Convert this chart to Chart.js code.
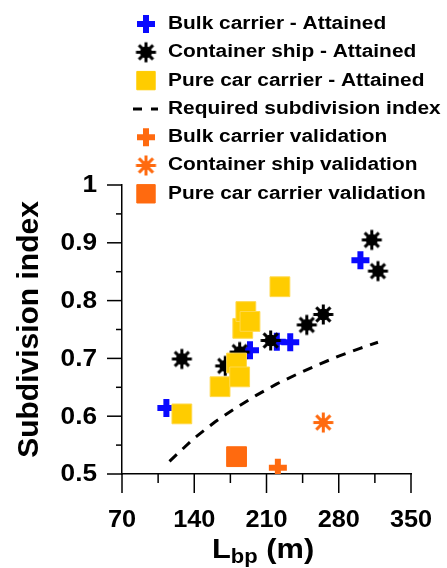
<!DOCTYPE html>
<html>
<head>
<meta charset="utf-8">
<script src="https://cdn.jsdelivr.net/npm/chart.js@4.4.1/dist/chart.umd.min.js"></script>
<style>
  html, body { margin: 0; padding: 0; background: #fff; }
  #wrap { width: 447px; height: 568px; position: relative; }
</style>
</head>
<body>
<div id="wrap"><canvas id="myChart"></canvas></div>
<script>
// values
var bulkX = [113, 194, 220, 233, 301];
var bulkY = [0.614, 0.714, 0.729, 0.728, 0.870];
var contX = [128, 170, 184, 214, 249, 265, 312, 318];
var contY = [0.699, 0.687, 0.711, 0.731, 0.758, 0.776, 0.905, 0.851];
var carX = [128, 165, 181, 184, 187, 190, 194, 223];
var carY = [0.604, 0.651, 0.692, 0.668, 0.752, 0.781, 0.764, 0.824];
var reqX = [116, 140, 160, 180, 200, 220, 240, 260, 280, 300, 318];
var reqY = [0.522, 0.562, 0.590, 0.614, 0.636, 0.656, 0.673, 0.689, 0.704, 0.717, 0.728];
var bulkValX = [221], bulkValY = [0.511];
var contValX = [265], contValY = [0.589];
var carValX = [181], carValY = [0.530];

var xTicks = [70, 140, 210, 280, 350];
var yTicks = [0.5, 0.6, 0.7, 0.8, 0.9, 1];

function pts(xs, ys) {
  var out = [];
  for (var i = 0; i < xs.length; i++) out.push({ x: xs[i], y: ys[i] });
  return out;
}

var BLUE = '#0a0aff', ORANGE = '#ff6a0f', YELLOW = '#ffcc00';
var FONT = '"Liberation Sans", Arial, sans-serif';

// asterisk marker with a solid middle, like the original plot symbol
function starMarker(color, r, lw, core) {
  var c = document.createElement('canvas');
  var s = Math.ceil(r * 2 + lw + 2);
  c.width = s; c.height = s;
  var g = c.getContext('2d');
  g.strokeStyle = color; g.fillStyle = color;
  g.lineWidth = lw; g.lineCap = 'butt';
  for (var k = 0; k < 4; k++) {
    var a = k * Math.PI / 4;
    g.beginPath();
    g.moveTo(s / 2 - r * Math.cos(a), s / 2 - r * Math.sin(a));
    g.lineTo(s / 2 + r * Math.cos(a), s / 2 + r * Math.sin(a));
    g.stroke();
  }
  g.beginPath();
  g.arc(s / 2, s / 2, core, 0, Math.PI * 2);
  g.fill();
  return c;
}
var blackStar = starMarker('#000', 10, 3, 6);
var orangeStar = starMarker(ORANGE, 10, 3, 4.5);

function stretchText(ctx, txt, x, y, size, sx, align, base) {
  ctx.save();
  ctx.font = 'bold ' + size + 'px ' + FONT;
  ctx.textBaseline = base || 'alphabetic';
  ctx.textAlign = 'left';
  var w = ctx.measureText(txt).width * sx;
  var x0 = align === 'right' ? x - w : (align === 'center' ? x - w / 2 : x);
  ctx.translate(x0, y);
  ctx.scale(sx, 1);
  ctx.fillStyle = '#000';
  ctx.fillText(txt, 0, 0);
  ctx.restore();
  return w;
}

var axisPlugin = {
  id: 'axisDeco',
  afterDraw: function (chart) {
    var ctx = chart.ctx;
    var xs = chart.scales.x, ys = chart.scales.y;
    var area = chart.chartArea;
    ctx.save();
    ctx.strokeStyle = '#000';
    ctx.lineWidth = 1.5;
    xs.ticks.forEach(function (t) {
      var px = xs.getPixelForValue(t.value);
      var major = xTicks.indexOf(t.value) >= 0;
      ctx.beginPath();
      ctx.moveTo(px, area.bottom);
      ctx.lineTo(px, area.bottom + (major ? 19 : 9));
      ctx.stroke();
    });
    ys.ticks.forEach(function (t) {
      var py = ys.getPixelForValue(t.value);
      var major = yTicks.some(function (v) { return Math.abs(v - t.value) < 1e-6; });
      ctx.beginPath();
      ctx.moveTo(area.left, py);
      ctx.lineTo(area.left - (major ? 15 : 6), py);
      ctx.stroke();
    });
    ctx.restore();
    // tick labels
    xTicks.forEach(function (v) {
      stretchText(ctx, String(v), xs.getPixelForValue(v), 527, 23, 1.1, 'center');
    });
    yTicks.forEach(function (v) {
      var lab = v === 1 ? '1' : v.toFixed(1);
      stretchText(ctx, lab, 97, ys.getPixelForValue(v) + 1, 23, 1.14, 'right', 'middle');
    });
    // x title L_bp (m)
    var x0 = 212;
    var w = stretchText(ctx, 'L', x0, 558, 28, 1.1, 'left');
    w += stretchText(ctx, 'bp', x0 + w, 563, 20, 1.1, 'left');
    stretchText(ctx, ' (m)', x0 + w, 558, 28, 1.1, 'left');
    // y title
    ctx.save();
    ctx.translate(38, (area.top + area.bottom) / 2);
    ctx.rotate(-Math.PI / 2);
    stretchText(ctx, 'Subdivision index', 0, 0, 30, 1.0, 'center');
    ctx.restore();

    // legend drawn on top of the plot
    var rowY = 24, step = 28.3, mx = 146, tx = 168;
    chart.data.datasets.forEach(function (ds, i) {
      var y = rowY + i * step;
      ctx.save();
      if (ds.showLine) {
        ctx.strokeStyle = ds.borderColor;
        ctx.lineWidth = 3;
        ctx.beginPath();
        ctx.moveTo(133, y); ctx.lineTo(142, y);
        ctx.moveTo(151, y); ctx.lineTo(158, y);
        ctx.stroke();
      } else {
        ctx.strokeStyle = ds.pointStyle === 'rect' ? ds.backgroundColor : ds.borderColor;
        ctx.fillStyle = ds.backgroundColor;
        ctx.lineWidth = ds.pointBorderWidth;
        Chart.helpers.drawPoint(ctx, {
          pointStyle: ds.pointStyle,
          radius: ds.pointStyle === 'rect' ? 13 : ds.pointRadius,
          borderWidth: ds.pointBorderWidth,
          rotation: 0
        }, mx, y);
      }
      ctx.restore();
      stretchText(ctx, ds.label, tx, y, 18, 1.16, 'left', 'middle');
    });
  }
};

var ctx = document.getElementById('myChart');
var myChart = new Chart(ctx, {
  type: 'scatter',
  data: {
    datasets: [
      {
        label: 'Bulk carrier - Attained',
        data: pts(bulkX, bulkY),
        pointStyle: 'cross', pointRadius: 9, pointBorderWidth: 6,
        borderColor: BLUE, backgroundColor: BLUE, order: 3
      },
      {
        label: 'Container ship - Attained',
        data: pts(contX, contY),
        pointStyle: blackStar, pointRadius: 10, pointBorderWidth: 3,
        borderColor: '#000', backgroundColor: '#000', order: 2
      },
      {
        label: 'Pure car carrier - Attained',
        data: pts(carX, carY),
        pointStyle: 'rect', pointRadius: 14, pointBorderWidth: 1,
        borderColor: '#ffd84a', backgroundColor: YELLOW, order: 1
      },
      {
        label: 'Required subdivision index',
        data: pts(reqX, reqY),
        showLine: true, pointRadius: 0, borderWidth: 3,
        borderDash: [10, 8], borderColor: '#000', backgroundColor: '#000', order: 4
      },
      {
        label: 'Bulk carrier validation',
        data: pts(bulkValX, bulkValY),
        pointStyle: 'cross', pointRadius: 9, pointBorderWidth: 6,
        borderColor: ORANGE, backgroundColor: ORANGE, order: 0
      },
      {
        label: 'Container ship validation',
        data: pts(contValX, contValY),
        pointStyle: orangeStar, pointRadius: 10, pointBorderWidth: 3,
        borderColor: ORANGE, backgroundColor: ORANGE, order: 0
      },
      {
        label: 'Pure car carrier validation',
        data: pts(carValX, carValY),
        pointStyle: 'rect', pointRadius: 14, pointBorderWidth: 1,
        borderColor: ORANGE, backgroundColor: ORANGE, order: 0
      }
    ]
  },
  options: {
    responsive: true,
    maintainAspectRatio: false,
    animation: false,
    layout: { padding: { top: 185, right: 36, left: 0, bottom: 0 } },
    plugins: { legend: { display: false }, tooltip: { enabled: false } },
    scales: {
      x: {
        type: 'linear', min: 70, max: 350,
        ticks: { display: false, stepSize: 35 },
        grid: { display: false },
        border: { color: '#000', width: 1.5 },
        afterFit: function (s) { s.height = 94; }
      },
      y: {
        min: 0.5, max: 1,
        ticks: { display: false, stepSize: 0.05 },
        grid: { display: false },
        border: { color: '#000', width: 1.5 },
        afterFit: function (s) { s.width = 122; }
      }
    }
  },
  plugins: [axisPlugin]
});
</script>
</body>
</html>
